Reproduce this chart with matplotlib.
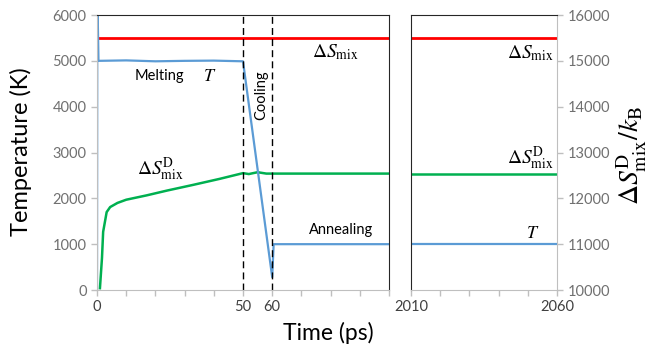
#!/usr/bin/env python3
"""Temperature and mixing entropy during melt / cool / anneal, broken time axis."""

import matplotlib

matplotlib.use("Agg")
import matplotlib.pyplot as plt

# temperature (K), left axis
t_early = [0, 0.1, 0.5, 10, 20, 30, 40, 50, 60, 60.5, 100]
T_early = [0, 6500, 5000, 5010, 4990, 5000, 5005, 4990, 280, 1000, 1000]
t_late = [2010, 2060]
T_late = [1000, 1000]

# entropies (per k_B), right axis
ds_mix_early = [15500, 15500]
ds_mix_late = [15500, 15500]
t_ds = [1, 1.7, 2.1, 3.3, 4.5, 7, 10, 17, 24, 33, 42, 50, 52, 55, 58, 70, 100]
ds_d = [10040, 10700, 11270, 11700, 11810, 11900, 11970, 12065, 12170, 12295,
        12425, 12550, 12530, 12570, 12540, 12540, 12540]
ds_d_late = [12540, 12540]

BLUE = "#5b9bd5"
GREEN = "#00b050"
RED = "#ff0000"
GRAY = "#bfbfbf"
DARK = "#404040"

plt.rcParams.update({
    "font.family": ["Lato", "DejaVu Sans"],
    "mathtext.fontset": "stix",
    "font.size": 10.5,
})

fig = plt.figure(figsize=(6.52, 3.5), dpi=100)
ax1 = fig.add_axes([0.1488, 0.1714, 0.4478, 0.7857])
ax2 = fig.add_axes([0.6304, 0.1714, 0.2239, 0.7857])
ax1b = ax1.twinx()
ax2b = ax2.twinx()

for a in (ax1, ax2):
    a.set_ylim(0, 6000)
for a in (ax1b, ax2b):
    a.set_ylim(10000, 16000)
ax1.set_xlim(0, 100)
ax2.set_xlim(2010, 2060)
ax1b.set_xlim(0, 100)
ax2b.set_xlim(2010, 2060)

# entropy curves (under the temperature)
ax1b.plot([0, 100], ds_mix_early, color=RED, lw=2)
ax2b.plot([2010, 2060], ds_mix_late, color=RED, lw=2)
ax1b.plot(t_ds, ds_d, color=GREEN, lw=1.8)
ax2b.plot(t_late, ds_d_late, color=GREEN, lw=1.8)

for a in (ax1, ax2):
    a.set_zorder(3)
    a.patch.set_visible(False)
ax1.plot(t_early, T_early, color=BLUE, lw=1.6)
ax2.plot(t_late, T_late, color=BLUE, lw=1.6)

for x in (50, 60):
    ax1.axvline(x, color="black", lw=1, ls=(0, (5, 3)))

# ticks
ax1.set_xticks(range(0, 101, 10))
ax1.set_xticklabels(["0", "", "", "", "", "50", "60", "", "", "", ""])
ax2.set_xticks(range(2010, 2061, 10))
ax2.set_xticklabels(["2010", "", "", "", "", "2060"])
ax1.set_yticks(range(0, 6001, 1000))
ax2.set_yticks([])
ax1b.set_yticks([])
ax2b.set_yticks(range(10000, 16001, 1000))

for a in (ax1, ax2, ax1b, ax2b):
    a.tick_params(color=GRAY, length=4, width=1, direction="out")
    a.tick_params(axis="x", labelcolor=DARK, labelsize=10.5)
    a.tick_params(axis="y", labelcolor="#707070", labelsize=10.5)
    for s in a.spines.values():
        s.set_visible(False)

ax1.spines["left"].set_visible(True)
ax1.spines["left"].set_color(GRAY)
ax1.spines["bottom"].set_visible(True)
ax1.spines["bottom"].set_color(GRAY)
for side in ("top", "right"):
    ax1.spines[side].set_visible(True)
    ax1.spines[side].set_color("#262626")
ax2.spines["bottom"].set_visible(True)
ax2.spines["bottom"].set_color(GRAY)
for side in ("top", "left"):
    ax2.spines[side].set_visible(True)
    ax2.spines[side].set_color("#262626")
ax2b.spines["right"].set_visible(True)
ax2b.spines["right"].set_color(GRAY)

fig.text(0.032, 0.567, "Temperature (K)", rotation=90, ha="center",
         va="center", fontsize=17)
fig.text(0.97, 0.557, r"$\Delta S^{\mathrm{D}}_{\mathrm{mix}}/k_{\mathrm{B}}$",
         rotation=90, ha="center", va="center", fontsize=20)
fig.text(0.503, 0.05, "Time (ps)", ha="center", va="center", fontsize=16.5)

# annotations
mix = r"$\Delta S_{\mathrm{mix}}$"
mixd = r"$\Delta S^{\mathrm{D}}_{\mathrm{mix}}$"
ax1.text(81.5, 5190, mix, ha="center", va="center", fontsize=14)
ax2.text(2058.8, 5170, mix, ha="right", va="center", fontsize=14)
ax1.text(13, 4670, "Melting", ha="left", va="center")
ax1.text(38.5, 4670, r"$T$", ha="center", va="center", fontsize=13)
ax1.text(56.3, 4250, "Cooling", ha="center", va="center", rotation=90)
ax1.text(21.6, 2640, mixd, ha="center", va="center", fontsize=14)
ax2.text(2058.8, 2880, mixd, ha="right", va="center", fontsize=14)
ax1.text(83.6, 1310, "Annealing", ha="center", va="center")
ax2.text(2051.6, 1250, r"$T$", ha="center", va="center", fontsize=13)

fig.savefig("out.png", dpi=100)
